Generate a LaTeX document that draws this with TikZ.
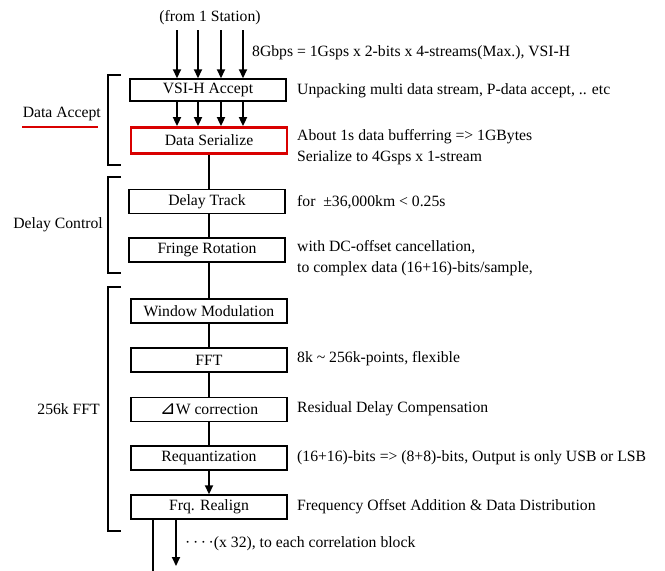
\documentclass[tikz,border=0pt]{standalone}
\usepackage{fontspec}
\setmainfont{Liberation Serif}
\newfontfamily\symfont{DejaVu Sans}
\usetikzlibrary{arrows.meta}
\begin{document}
\begin{tikzpicture}[x=1pt,y=-1pt,
  font=\fontsize{15.7}{21}\selectfont,
  blk/.style={draw=black,line width=1.4pt,minimum width=156pt,minimum height=24pt,inner sep=0pt,fill=white},
  redblk/.style={blk,draw=red!85!black,line width=2.8pt,minimum height=26pt},
  note/.style={anchor=west,align=left,inner sep=0pt},
  grp/.style={anchor=east,inner sep=0pt},
  brk/.style={line width=2.4pt},
  conn/.style={line width=1.4pt},
  arr/.style={line width=1.8pt,-{Triangle[length=9pt,width=8pt]}}]
\useasboundingbox (0,0) rectangle (665,571);
% boxes
\node[blk,minimum height=22pt] (vsi) at (208,90) {VSI-H Accept};
\node[redblk] (ser) at (209,140.5) {Data Serialize};
\node[blk] (dt) at (207,201.5) {Delay Track};
\node[blk] (fr) at (207,250) {Fringe Rotation};
\node[blk] (wm) at (209,311) {Window Modulation};
\node[blk] (fft) at (209,360) {FFT};
\node[blk] (dw) at (209,409.5) {{\symfont\fontsize{19}{20}\selectfont ⊿}W correction};
\node[blk] (rq) at (209,458) {Requantization};
\node[blk] (fq) at (209,507) {Frq. Realign};
% top input
\node (src) at (210,18) {(from 1 Station)};
\foreach \i/\x in {1/177,2/198,3/221,4/243}{
  \coordinate (in\i) at (\x,30);
  \draw[arr] (in\i) -- (in\i |- vsi.north);
  \draw[arr] (in\i |- vsi.south) -- (in\i |- ser.north);
}
% vertical links
\draw[conn] (ser.south -| 209,0) -- (209,189);
\draw[conn] (dt.south -| 209,0) -- (fr.north -| 209,0);
\draw[conn] (fr.south -| 209,0) -- (wm.north);
\draw[conn] (wm) -- (fft);
\draw[conn] (fft) -- (dw);
\draw[conn] (dw) -- (rq);
\draw[arr] (rq.south) -- (fq.north);
\coordinate (outA) at (153,571);
\coordinate (outB) at (176,566);
\draw[conn] (fq.south -| outA) -- (outA);
\draw[arr] (fq.south -| outB) -- (outB);
% brackets
\draw[brk] (121,75) -- (108,75) -- (108,165) -- (121,165);
\draw[brk] (121,177) -- (108,177) -- (108,273) -- (121,273);
\draw[brk] (121,287) -- (108,287) -- (108,531) -- (121,531);
% group labels
\node[grp] (ga) at (101,114) {Data Accept};
\draw[red!85!black,line width=2pt] (22,127) -- (98,127);
\node[grp] (gd) at (103,225) {Delay Control};
\node[grp] (gf) at (100,409) {256k FFT};
% notes
\node[note] (n0) at (252,53) {8Gbps = 1Gsps x 2-bits x 4-streams(Max.), VSI-H};
\node[note] (n1) at (297,91) {Unpacking multi data stream, P-data accept, .. etc};
\node[note] (n2) at (297,147.5) {About 1s data bufferring => 1GBytes\\Serialize to 4Gsps x 1-stream};
\node[note] (n3) at (297,202) {for \ ±36,000km < 0.25s};
\node[note] (n4) at (297,258) {with DC-offset cancellation,\\to complex data (16+16)-bits/sample,};
\node[note] (n5) at (297,359) {8k \textasciitilde\ 256k-points, flexible};
\node[note] (n6) at (297,409) {Residual Delay Compensation};
\node[note] (n7) at (297,458) {(16+16)-bits => (8+8)-bits, Output is only USB or LSB};
\node[note] (n8) at (297,507) {Frequency Offset Addition \& Data Distribution};
\node[note] (n9) at (185,544) {·\,·\,·\,·(x 32), to each correlation block};
\end{tikzpicture}
\end{document}
